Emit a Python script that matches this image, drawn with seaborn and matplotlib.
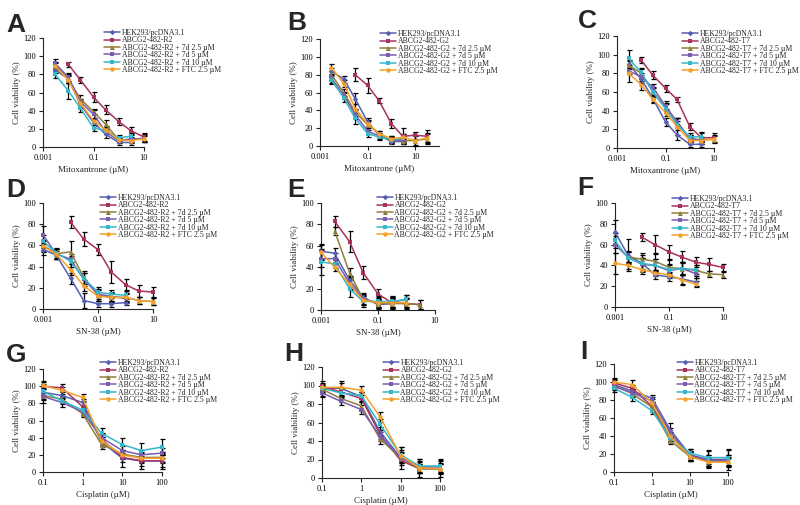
import numpy as np
import pandas as pd
import matplotlib
matplotlib.use("Agg")
import matplotlib.pyplot as plt
import seaborn as sns

# ---------------- data ----------------
mito_x_A = [0.003, 0.01, 0.03, 0.1, 0.3, 1, 3, 10]
mito_x_B = [0.003, 0.01, 0.03, 0.1, 0.3, 1, 3, 10, 30]
mito_x_C = [0.003, 0.01, 0.03, 0.1, 0.3, 1, 3, 10]
sn38_x_D = [0.001, 0.003, 0.01, 0.03, 0.1, 0.3, 1, 3, 10]
sn38_x_E = [0.001, 0.003, 0.01, 0.03, 0.1, 0.3, 1, 3]
sn38_x_F = [0.001, 0.003, 0.01, 0.03, 0.1, 0.3, 1, 3, 10]
cis_x = [0.1, 0.3, 1, 3, 10, 30, 100]

# Panel A (Mitoxantrone, R2)
a_hek = [85, 75, 47, 27, 14, 5, 5, None]
a_res = [None, 91, 74, 55, 41, 28, 18, 11]
a_d25 = [90, 75, 53, 39, 25, 8, 8, 10]
a_d5 = [92, 77, 50, 36, 17, 7, 9, 9]
a_d10 = [80, 62, 43, 21, 18, 10, 12, None]
a_ftc = [89, 74, 48, 29, 19, 8, 7, 9]
a_err = [[4, 5, 4, 4, 4, 3, 3, 0], [0, 3, 3, 6, 5, 4, 4, 4], [4, 4, 4, 3, 5, 3, 3, 4],
         [5, 4, 3, 5, 3, 3, 4, 4], [4, 9, 4, 3, 4, 3, 3, 0], [4, 4, 4, 3, 4, 3, 3, 3]]

# Panel B (Mitoxantrone, G2)
b_hek = [84, 75, 53, 27, 12, 5, 5, None, None]
b_res = [None, None, 80, 68, 51, 25, 11, 12, 11]
b_d25 = [80, 60, 38, 24, 14, 7, 6, 6, 8]
b_d5 = [76, 57, 35, 17, 11, 6, 7, None, None]
b_d10 = [74, 54, 31, 14, 10, 7, 9, None, None]
b_ftc = [88, 70, 42, 25, 14, 8, 10, 6, 9]
b_err = [[4, 4, 6, 4, 3, 3, 3, 0, 0], [0, 0, 7, 8, 3, 5, 9, 4, 7], [4, 4, 4, 4, 3, 3, 3, 6, 6],
         [5, 4, 5, 4, 3, 3, 4, 0, 0], [5, 5, 6, 4, 3, 4, 4, 0, 0], [4, 4, 5, 4, 3, 3, 4, 5, 6]]

# Panel C (Mitoxantrone, T7)
c_hek = [90, 74, 53, 28, 14, 4, 4, None]
c_res = [None, 94, 78, 64, 52, 23, 11, 11]
c_d25 = [89, 80, 60, 44, 28, 10, 9, 9]
c_d5 = [83, 76, 65, 45, 28, 10, 8, None]
c_d10 = [96, 81, 60, 42, 25, 12, 12, None]
c_ftc = [80, 68, 52, 38, 23, 8, 8, 10]
c_err = [[4, 4, 4, 4, 5, 3, 3, 0], [0, 3, 4, 4, 3, 4, 5, 5], [4, 5, 4, 4, 4, 4, 3, 4],
         [4, 4, 4, 5, 4, 4, 4, 0], [9, 5, 5, 5, 4, 4, 5, 0], [9, 6, 4, 4, 9, 4, 4, 4]]

# Panel D (SN-38, R2)
d_hek = [56, 51, 29, 8, 5, 5, 6, None, None]
d_res = [None, None, 82, 66, 56, 35, 23, 17, 16]
d_d25 = [60, 52, 54, 30, 13, 11, 11, 8, 7]
d_d5 = [70, 52, 47, 28, 14, 12, 10, None, None]
d_d10 = [64, 53, 45, 29, 16, 14, 13, None, None]
d_ftc = [59, 52, 37, 22, 12, 11, 11, 8, 7]
d_err = [[5, 4, 5, 7, 3, 3, 2, 0, 0], [0, 0, 6, 7, 5, 10, 5, 6, 5], [5, 5, 10, 6, 5, 4, 4, 3, 3],
         [8, 5, 5, 6, 5, 4, 4, 0, 0], [6, 5, 5, 5, 5, 4, 4, 0, 0], [5, 5, 5, 5, 4, 4, 4, 3, 3]]

# Panel E (SN-38, G2)
e_hek = [55, 53, 28, 12, 5, 6, 7, None]
e_res = [None, 83, 64, 35, 15, 7, 6, 5]
e_d25 = [None, 74, 35, 10, 6, 6, 6, 5]
e_d5 = [48, 48, 25, 10, 7, 7, 10, None]
e_d10 = [45, 43, 20, 8, 8, 8, 10, None]
e_ftc = [54, 40, 24, 9, 7, 7, 7, None]
e_err = [[7, 5, 4, 4, 4, 5, 4, 0], [0, 5, 10, 6, 5, 5, 5, 4], [0, 4, 4, 4, 4, 4, 4, 4],
         [8, 5, 5, 5, 5, 5, 4, 0], [12, 4, 8, 5, 5, 5, 4, 0], [7, 4, 5, 4, 4, 4, 4, 0]]

# Panel F (SN-38, T7)
f_hek = [72, 50, 42, 31, 29, 27, 24, None, None]
f_res = [None, None, 67, 60, 53, 48, 43, 41, 38]
f_d25 = [None, 48, 46, 44, 38, 37, 35, 32, 31]
f_d5 = [60, 48, 41, 40, 35, 37, 32, None, None]
f_d10 = [64, 47, 42, 40, 36, 37, 36, None, None]
f_ftc = [42, 40, 36, 33, 31, 26, 22, None, None]
f_err = [[12, 15, 8, 4, 4, 5, 4, 0, 0], [0, 0, 4, 9, 7, 6, 5, 6, 3], [0, 5, 6, 8, 7, 6, 5, 3, 3],
         [8, 6, 6, 6, 5, 6, 4, 0, 0], [7, 6, 5, 6, 5, 6, 4, 0, 0], [10, 3, 4, 3, 3, 5, 3, 0, 0]]

# Panel G (Cisplatin, R2)
g_hek = [93, 89, 81, 35, 16, 13, 13]
g_res = [100, 98, 76, 38, 17, 13, 13]
g_d25 = [89, 85, 68, 32, 21, 17, 17]
g_d5 = [88, 81, 70, 40, 25, 20, 22]
g_d10 = [94, 83, 72, 45, 32, 25, 29]
g_ftc = [101, 95, 87, 36, 20, 16, 16]
g_err = [[13, 4, 4, 6, 10, 10, 10], [3, 4, 5, 6, 5, 6, 7], [4, 4, 4, 5, 5, 5, 5],
         [4, 5, 4, 5, 5, 6, 6], [4, 4, 4, 6, 8, 9, 9], [4, 4, 4, 5, 5, 5, 5]]

# Panel H (Cisplatin, G2)
h_hek = [97, 97, 88, 50, 22, 11, 10]
h_res = [99, 93, 86, 47, 19, 10, 10]
h_d25 = [96, 86, 78, 42, 22, 10, 10]
h_d5 = [92, 83, 74, 45, 22, 12, 12]
h_d10 = [97, 92, 89, 58, 25, 13, 13]
h_ftc = [98, 98, 95, 66, 24, 11, 10]
h_err = [[8, 8, 5, 5, 12, 10, 9], [4, 4, 4, 5, 5, 5, 5], [4, 4, 4, 5, 5, 5, 5],
         [4, 4, 5, 5, 6, 6, 6], [4, 4, 4, 6, 9, 8, 8], [4, 5, 5, 5, 6, 6, 6]]

# Panel I (Cisplatin, T7)
i_hek = [97, 90, 82, 47, 19, 14, 14]
i_res = [99, 93, 73, 40, 18, 13, 13]
i_d25 = [96, 87, 72, 35, 17, 12, 12]
i_d5 = [95, 88, 79, 44, 18, 13, 13]
i_d10 = [93, 83, 68, 38, 21, 16, 16]
i_ftc = [100, 97, 77, 40, 17, 11, 11]
i_err = [[5, 5, 4, 8, 7, 10, 12], [4, 4, 5, 5, 5, 6, 6], [4, 4, 4, 4, 5, 5, 5],
         [4, 4, 4, 5, 5, 6, 6], [4, 4, 4, 5, 5, 7, 8], [4, 5, 4, 5, 5, 5, 5]]

clones = ["R2", "G2", "T7"]
colors = ["#5560b0", "#a8325e", "#8f7f3c", "#7a5cb0", "#35b7c9", "#f5a02a"]
markers = ["D", "s", "^", "s", "s", "o"]
msizes = [2.8, 3.4, 3.6, 3.4, 3.4, 3.2]

def labels_for(clone):
    return ["HEK293/pcDNA3.1", f"ABCG2-482-{clone}",
            f"ABCG2-482-{clone} + 7d 2.5 \u00b5M", f"ABCG2-482-{clone} + 7d 5 \u00b5M",
            f"ABCG2-482-{clone} + 7d 10 \u00b5M", f"ABCG2-482-{clone} + FTC 2.5 \u00b5M"]

# ---------------- style ----------------
sns.set_theme(style="ticks")
plt.rcParams["font.family"] = ["Liberation Serif", "DejaVu Serif"]
plt.rcParams["axes.linewidth"] = 0.8
plt.rcParams["xtick.major.width"] = 0.8
plt.rcParams["ytick.major.width"] = 0.8
plt.rcParams["xtick.major.size"] = 3
plt.rcParams["ytick.major.size"] = 3

fig = plt.figure(figsize=(8, 5.05), dpi=100)

def px_axes(l, t, r, b):
    return fig.add_axes([l / 800, 1 - b / 505, (r - l) / 800, (b - t) / 505])

panels = [
    # letter, rect, x, series, err, xlim, ylim, xlabel, clone, legend (x, y), letter (x, baseline)
    ("A", (43, 38, 144, 147), mito_x_A, [a_hek, a_res, a_d25, a_d5, a_d10, a_ftc], a_err,
     (0.001, 10), 120, "Mitoxantrone (\u00b5M)", "R2", (104, 29), (6, 32)),
    ("B", (320, 39, 439, 146), mito_x_B, [b_hek, b_res, b_d25, b_d5, b_d10, b_ftc], b_err,
     (0.001, 100), 120, "Mitoxantrone (\u00b5M)", "G2", (380, 30), (287, 30)),
    ("C", (617, 36, 714, 148), mito_x_C, [c_hek, c_res, c_d25, c_d5, c_d10, c_ftc], c_err,
     (0.001, 10), 120, "Mitoxantrone (\u00b5M)", "T7", (682, 30), (578, 28)),
    ("D", (43, 203, 153, 309), sn38_x_D, [d_hek, d_res, d_d25, d_d5, d_d10, d_ftc], d_err,
     (0.001, 10), 100, "SN-38 (\u00b5M)", "R2", (100, 194), (6, 197)),
    ("E", (321, 203, 435, 310), sn38_x_E, [e_hek, e_res, e_d25, e_d5, e_d10, e_ftc], e_err,
     (0.001, 10), 100, "SN-38 (\u00b5M)", "G2", (377, 194), (287, 197)),
    ("F", (615, 203, 723, 307), sn38_x_F, [f_hek, f_res, f_d25, f_d5, f_d10, f_ftc], f_err,
     (0.001, 10), 100, "SN-38 (\u00b5M)", "T7", (672, 195), (577, 195)),
    ("G", (43, 369, 162, 472), cis_x, [g_hek, g_res, g_d25, g_d5, g_d10, g_ftc], g_err,
     (0.1, 100), 120, "Cisplatin (\u00b5M)", "R2", (100, 359), (6, 362)),
    ("H", (322, 367, 440, 478), cis_x, [h_hek, h_res, h_d25, h_d5, h_d10, h_ftc], h_err,
     (0.1, 100), 120, "Cisplatin (\u00b5M)", "G2", (383, 359), (284, 361)),
    ("I", (614, 364, 728, 472), cis_x, [i_hek, i_res, i_d25, i_d5, i_d10, i_ftc], i_err,
     (0.1, 100), 120, "Cisplatin (\u00b5M)", "T7", (677, 359), (580, 359)),
]

for letter, rect, xs, series, errs, xlim, ymax, xlabel, clone, leg, lpos in panels:
    ax = px_axes(*rect)
    labs = labels_for(clone)
    handles = []
    for k, (ys, es) in enumerate(zip(series, errs)):
        df = pd.DataFrame({"x": xs, "y": ys, "e": es}).dropna()
        ax.errorbar(df["x"], df["y"], yerr=df["e"], fmt="none", ecolor="black",
                    elinewidth=0.9, capsize=1.8, capthick=0.9, zorder=3, clip_on=False)
        sns.lineplot(data=df, x="x", y="y", ax=ax, color=colors[k], marker=markers[k],
                     markersize=msizes[k], markeredgewidth=0, linewidth=1.1,
                     label=labs[k], zorder=4, clip_on=False, legend=False)
        handles.append(ax.lines[-1])
    ax.set_xscale("log")
    ax.set_xlim(*xlim)
    ax.set_ylim(0, ymax)
    ax.set_yticks(np.arange(0, ymax + 1, 20))
    if xlim[0] == 0.001:
        ax.set_xticks([0.001, 0.1, 10])
        ax.set_xticklabels(["0.001", "0.1", "10"])
    else:
        ax.set_xticks([0.1, 1, 10, 100])
        ax.set_xticklabels(["0.1", "1", "10", "100"])
    ax.xaxis.set_minor_locator(matplotlib.ticker.NullLocator())
    ax.tick_params(labelsize=6, pad=2, colors="#222222", labelcolor="black")
    sns.despine(ax=ax)
    ax.set_xlabel(xlabel, fontsize=6.5, labelpad=3)
    ax.set_ylabel("Cell viability (%)", fontsize=6.5, labelpad=2)
    ax.set_facecolor("none")
    fig.legend(handles, labs, loc="upper left", bbox_to_anchor=(leg[0] / 800, 1 - leg[1] / 505),
               bbox_transform=fig.transFigure, frameon=False, fontsize=5.6,
               handlelength=2.0, handletextpad=0.25, labelspacing=-0.08,
               borderpad=0, borderaxespad=0)
    fig.text(lpos[0] / 800, 1 - lpos[1] / 505, letter, fontsize=19, fontweight="bold",
             family="Liberation Sans", ha="left", va="baseline")

fig.savefig("out.png", dpi=100)
